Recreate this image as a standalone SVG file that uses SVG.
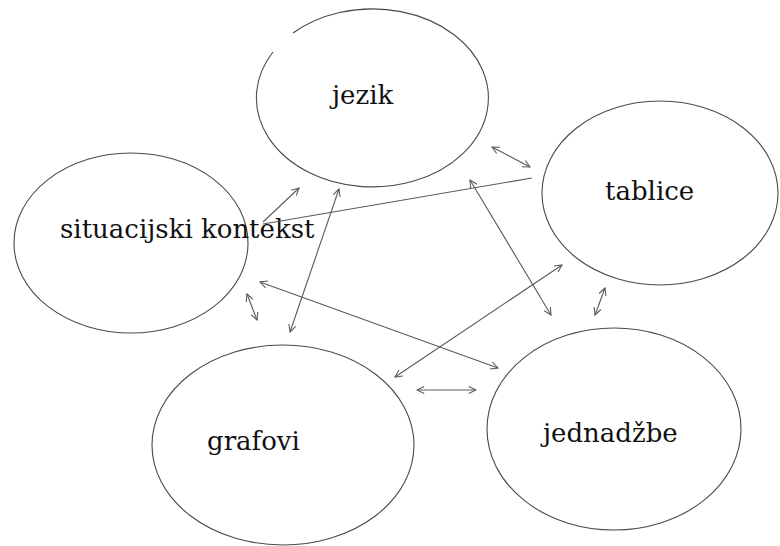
<svg xmlns="http://www.w3.org/2000/svg" width="780" height="546" viewBox="0 0 780 546">
<style>
.node{fill:none;stroke:#4a4a4a;stroke-width:1.1}
.lbl{font-family:'DejaVu Serif',serif;font-size:26px;fill:#111}
.c{stroke:#5a5a5a;stroke-width:1.1;fill:none}
.a2{marker-start:url(#ah);marker-end:url(#ah)}
.a1{marker-end:url(#ah)}
</style>
<defs>
<marker id="ah" viewBox="0 0 10 10" refX="9" refY="5" markerWidth="9" markerHeight="9" markerUnits="userSpaceOnUse" orient="auto-start-reverse">
<path d="M1,1 L9,5 L1,9" fill="none" stroke="#5a5a5a" stroke-width="1.2"/>
</marker>
</defs>
<rect width="780" height="546" fill="#fff"/>
<g id="jezik">
<path class="node" d="M293,33 A116,89 0 1 1 273,52"/>
<text class="lbl" x="332" y="104">jezik</text>
</g>
<g id="tablice">
<ellipse class="node" cx="660" cy="193" rx="118" ry="92"/>
<text class="lbl" x="605" y="200">tablice</text>
</g>
<g id="situacijski_kontekst">
<ellipse class="node" cx="131" cy="243" rx="117" ry="90"/>
<text class="lbl" x="60" y="238">situacijski kontekst</text>
</g>
<g id="grafovi">
<ellipse class="node" cx="283" cy="445" rx="131" ry="100"/>
<text class="lbl" x="207" y="450">grafovi</text>
</g>
<g id="jednadzbe">
<ellipse class="node" cx="614" cy="429" rx="127" ry="101"/>
<text class="lbl" x="543" y="442">jednadžbe</text>
</g>
<g id="connectors">
<line class="c a2" x1="492" y1="147" x2="530" y2="167"/>
<line class="c" x1="532" y1="178" x2="263" y2="224"/>
<line class="c a1" x1="263" y1="222" x2="299" y2="188"/>
<line class="c a2" x1="339" y1="189" x2="290" y2="332"/>
<line class="c a2" x1="470" y1="180" x2="551" y2="315"/>
<line class="c a2" x1="605" y1="288" x2="595" y2="315"/>
<line class="c a2" x1="562" y1="265" x2="395" y2="377"/>
<line class="c a2" x1="260" y1="282" x2="498" y2="368"/>
<line class="c a2" x1="247" y1="294" x2="257" y2="320"/>
<line class="c a2" x1="417" y1="390" x2="476" y2="390"/>
</g>
</svg>
